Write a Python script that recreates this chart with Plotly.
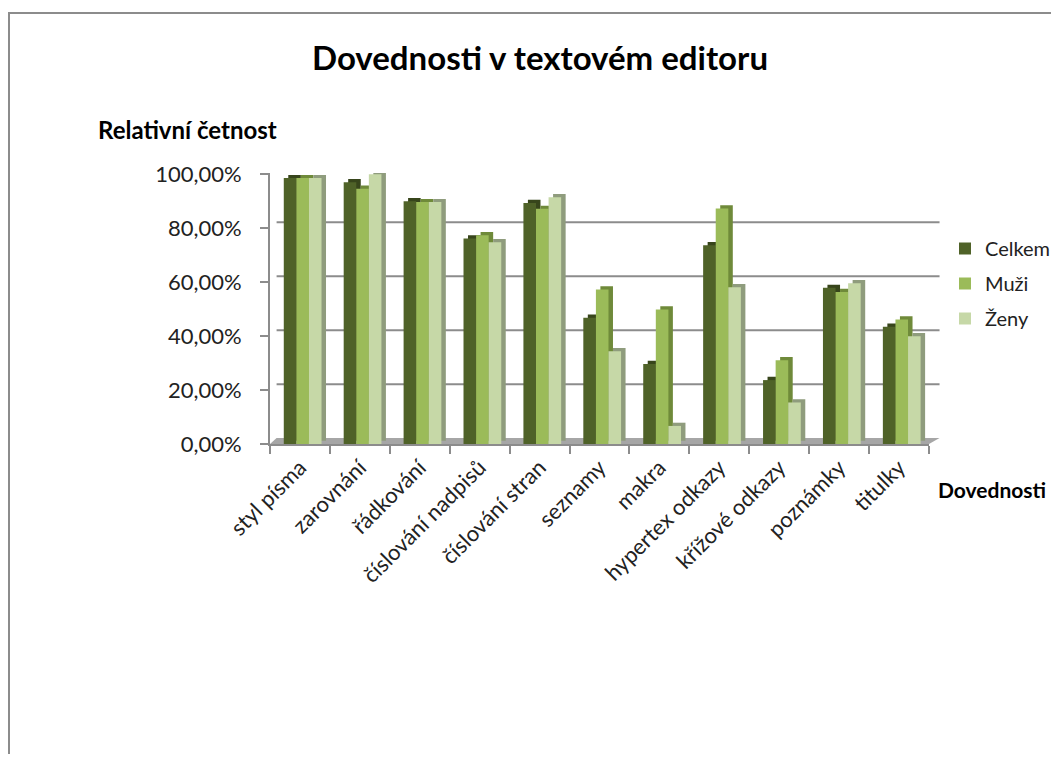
import plotly.graph_objects as go

categories = ["styl písma", "zarovnání", "řádkování", "číslování nadpisů", "číslování stran",
              "seznamy", "makra", "hypertex odkazy", "křížové odkazy", "poznámky", "titulky"]
celkem = [98.6, 97.1, 90.0, 76.2, 89.4, 46.8, 29.7, 73.7, 23.7, 57.9, 43.5]
muzi   = [98.6, 94.7, 89.7, 77.4, 87.2, 57.3, 49.9, 87.3, 31.1, 56.4, 46.2]
zeny   = [98.6, 100.0, 89.7, 74.8, 91.5, 34.4, 6.7, 58.1, 15.4, 59.6, 40.0]
series_names = ["Celkem", "Muži", "Ženy"]
y_ticks = [0, 20, 40, 60, 80, 100]
y_tick_labels = ["0,00%", "20,00%", "40,00%", "60,00%", "80,00%", "100,00%"]

# page body has an 8px margin; work in window pixel coordinates
OFF = 8
W, H = 1059 - 2 * OFF, 762 - 2 * OFF
ML = 270 - OFF
MT = 173 - OFF
MR = W - (929 - OFF)
MB = H - (444 - OFF)
PW, PH = W - ML - MR, H - MT - MB

front_cols = ["#4f6228", "#9bbb59", "#c6d8a7"]
side_cols = ["#37451b", "#6f8a3a", "#8f9c7d"]
offsets = [-0.27, -0.06, 0.15]
bw = 0.21
dx, dz = 0.075, 1.2
FONT = "Lato"

fig = go.Figure()
data = [celkem, muzi, zeny]
for k in range(3):
    fig.add_trace(go.Bar(x=categories, y=data[k], base=dz, offset=offsets[k] + dx, width=bw,
                         marker=dict(color=side_cols[k], line=dict(width=0)),
                         showlegend=False, hoverinfo="skip"))
for k in range(3):
    fig.add_trace(go.Bar(x=categories, y=data[k], offset=offsets[k], width=bw,
                         name=series_names[k], legendgroup=series_names[k],
                         marker=dict(color=front_cols[k], line=dict(width=0))))

px = lambda p: (p - OFF - ML) / PW
py = lambda p: (H - MB - (p - OFF)) / PH
cx = lambda p: (p - OFF) / W
cy = lambda p: 1 - (p - OFF) / H

shapes = []
shapes.append(dict(type="path", xref="paper", yref="y", layer="below",
                   path="M 0,0 L 1,0 L 1.016,2.2 L 0.01,2.2 Z",
                   fillcolor="#a6a6a6", line=dict(width=0)))
for v in y_ticks[1:]:
    shapes.append(dict(type="line", xref="paper", yref="y", layer="below",
                       x0=0.01, x1=1.016, y0=v + 2.2, y1=v + 2.2,
                       line=dict(color="#8c8c8c", width=2)))
shapes.append(dict(type="rect", xref="paper", yref="paper", x0=px(9), x1=px(1080),
                   y0=py(790), y1=py(13), line=dict(color="#8c8c8c", width=2)))

fig.update_layout(
    width=W, height=H, margin=dict(l=ML, r=MR, t=MT, b=MB, autoexpand=False),
    paper_bgcolor="white", plot_bgcolor="white",
    barmode="overlay",
    font=dict(family=FONT, color="#222222", size=21),
    title=dict(text="Dovednosti v textovém editoru", x=cx(540), xanchor="center",
               xref="container", y=cy(58), yref="container", yanchor="middle",
               font=dict(family=FONT, size=33, color="#000000", weight="bold")),
    shapes=shapes,
    legend=dict(x=px(945), y=py(229), xanchor="left", yanchor="top",
                font=dict(size=20, color="#222222"), tracegroupgap=6,
                bgcolor="rgba(0,0,0,0)"),
    annotations=[
        dict(text="Relativní četnost", xref="paper", yref="paper", x=px(96), y=py(130),
             xanchor="left", yanchor="middle", showarrow=False,
             font=dict(family=FONT, size=24, color="#000000", weight="bold")),
        dict(text="Dovednosti", xref="paper", yref="paper", x=px(936), y=py(489),
             xanchor="left", yanchor="middle", showarrow=False,
             font=dict(family=FONT, size=21, color="#000000", weight="bold")),
    ],
    xaxis=dict(type="category", range=[-0.5, 10.5], tickson="boundaries", ticks="outside",
               ticklen=8, tickwidth=2, tickcolor="#8c8c8c", showline=True, linecolor="#8c8c8c",
               linewidth=2, tickangle=-45, showgrid=False, automargin=False,
               tickfont=dict(size=22, color="#222222")),
    yaxis=dict(range=[0, 100.5], tickvals=y_ticks, ticktext=y_tick_labels, ticks="outside",
               ticklen=8, tickwidth=2, tickcolor="#8c8c8c", showline=True, linecolor="#8c8c8c",
               linewidth=2, showgrid=False, zeroline=False, ticklabelstandoff=14,
               automargin=False, tickfont=dict(size=22, color="#222222")),
)

fig.write_html("out.html")
